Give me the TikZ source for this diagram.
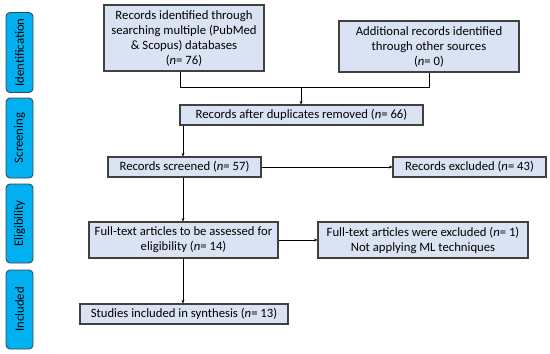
\documentclass[tikz,border=0pt]{standalone}
\usepackage{fontspec}
\setmainfont{Carlito}
\usetikzlibrary{arrows.meta}
\definecolor{boxfill}{HTML}{DAE3F3}
\definecolor{boxline}{HTML}{404040}
\definecolor{sidefill}{HTML}{00B0F0}
\definecolor{sideline}{HTML}{3A4A55}
\tikzset{
  box/.style={draw=boxline, fill=boxfill, line width=1.1pt, inner sep=0pt, align=center,
    font=\fontsize{12.7}{15}\selectfont},
  side/.style={draw=sideline, fill=sidefill, line width=0.9pt, rounded corners=4pt, inner sep=0pt},
  sidetext/.style={rotate=90, font=\fontsize{12.7}{14}\selectfont},
  conn/.style={line width=0.9pt, draw=black},
  arr/.style={conn, -{Stealth[length=3.5pt,width=3pt]}}
}
\newcommand{\mkbox}[6]{% name, x1, y1, x2, y2, text
  \node[box, minimum width={(#4-#2)*1pt}, minimum height={(#5-#3)*1pt}] (#1) at ({(#2+#4)/2*1pt},{-(#3+#5)/2*1pt}) {#6};}
\begin{document}
\begin{tikzpicture}[x=1pt,y=1pt]
\useasboundingbox (0,0) rectangle (550,-354);
% side labels
\node[side, minimum width=27pt, minimum height=80pt] (s1) at (19.5,-52.5) {};
\node[sidetext] (t1) at (s1.center) {Identification};
\node[side, minimum width=27pt, minimum height=80pt] (s2) at (19.5,-138) {};
\node[sidetext] (t2) at (s2.center) {Screening};
\node[side, minimum width=27pt, minimum height=79pt] (s3) at (19.5,-223.5) {};
\node[sidetext] (t3) at (s3.center) {Eligibility};
\node[side, minimum width=27pt, minimum height=79pt] (s4) at (19.5,-309.5) {};
\node[sidetext] (t4) at (s4.center) {Included};
% boxes
\mkbox{b1}{104}{5}{264}{71}{Records identified through\\searching multiple (PubMed\\\& Scopus) databases\\(\textit{n}= 76)}
\mkbox{b2}{339}{21}{519}{72}{Additional records identified\\through other sources\\(\textit{n}= 0)}
\mkbox{b3}{180}{105}{423}{125}{Records after duplicates removed (\textit{n}= 66)}
\mkbox{b4}{108}{157}{261}{177}{Records screened (\textit{n}= 57)}
\mkbox{b5}{393}{157}{546}{177}{Records excluded (\textit{n}= 43)}
\mkbox{b6}{89}{222}{278}{258}{Full-text articles to be assessed for\\eligibility (\textit{n}= 14)}
\mkbox{b7}{318}{222}{528}{258}{Full-text articles were excluded (\textit{n}= 1)\\Not applying ML techniques}
\mkbox{b8}{80}{304}{288}{324}{Studies included in synthesis (\textit{n}= 13)}
% connectors
\coordinate (j1) at (180,-87);
\coordinate (j2) at (429,-87);
\coordinate (j3) at (301,-87);
\draw[conn] (b1.south -| j1) -- (j1) -- (j2) -- (b2.south -| j2);
\draw[arr] (j3) -- (b3.north -| j3);
\coordinate (c1) at (183,0);
\draw[arr] (b3.south -| c1) -- (b4.north -| c1);
\draw[arr] (b4.east) -- (b5.west);
\draw[arr] (b4.south -| c1) -- (b6.north -| c1);
\draw[arr] (b6.east) -- (b7.west);
\draw[arr] (b6.south -| c1) -- (b8.north -| c1);
\end{tikzpicture}
\end{document}
